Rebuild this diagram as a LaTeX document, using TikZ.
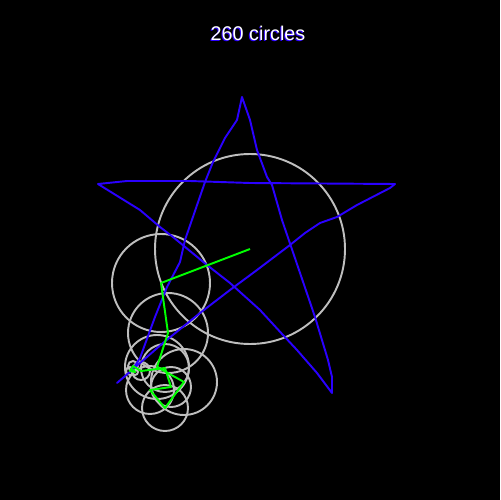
\documentclass[tikz,border=0pt]{standalone}
\usepackage{fontspec}
\setmainfont{Liberation Sans}
\usepackage{xcolor}
\usepackage{tikz}
\usetikzlibrary{positioning}
\definecolor{fsBlack}{HTML}{000000}
\definecolor{fsPen}{HTML}{2A00FF}
\definecolor{fsArm}{HTML}{00FF00}
\definecolor{fsRing}{HTML}{BEBEBE}
\definecolor{fsWhite}{HTML}{FFFFFF}
\tikzset{
  fs-ring/.style={draw=fsRing, line width=1.1pt},
  fs-arm/.style={draw=fsArm, line width=1.1pt, line join=round},
  fs-trace/.style={draw=fsPen, line width=1.1pt, line join=round,
    line cap=round},
  fs-title/.style={font=\fontsize{11.3}{13}\selectfont, text=fsWhite,
    inner sep=0pt},
  fs-title-edge/.style={fs-title, text=fsPen}
}

\begin{document}
\begin{tikzpicture}[x=0.02cm, y=-0.02cm]
\fill[fsBlack] (0,0) rectangle (500,500);
\useasboundingbox (0,0) rectangle (500,500);

\node[fs-title-edge] (title-edge) at (257,34) {260 circles};
\node[fs-title] (title) at (258,33) {260 circles};

% chain of centres
\coordinate (p0) at (250,249);
\coordinate (p1) at (161,283);
\coordinate (p2) at (168,333);
\coordinate (p3) at (157,367);
\coordinate (p4) at (184,382);
\coordinate (p5) at (165,408);
\coordinate (p6) at (150,390);
\coordinate (p7) at (171,387);
\coordinate (p8) at (165,368);
\coordinate (p9) at (141,371);
\coordinate (p10) at (133,366);
\coordinate (p11) at (130,371);
\coordinate (p12) at (135,372);
\coordinate (pen) at (133,369);

\draw[fs-ring] (p0) circle[radius=95];
\draw[fs-ring] (p1) circle[radius=49];
\draw[fs-ring] (p2) circle[radius=40];
\draw[fs-ring] (p3) circle[radius=32];
\draw[fs-ring] (p4) circle[radius=33];
\draw[fs-ring] (p5) circle[radius=23];
\draw[fs-ring] (p6) circle[radius=24];
\draw[fs-ring] (p7) circle[radius=20];
\draw[fs-ring] (p8) circle[radius=24];
\draw[fs-ring] (p9) circle[radius=9];
\draw[fs-ring] (p10) circle[radius=5];
\draw[fs-ring] (p11) circle[radius=4];
\draw[fs-ring] (p12) circle[radius=3];

% traced star
\draw[fs-trace] (117,383) -- (140,363) -- (163,343) -- (200,313)
  -- (230,290) -- (257,270) -- (290,245) -- (305,233) -- (320,223)
  -- (337,217) -- (357,205) -- (390,188) -- (395,184)
  -- (250,183) -- (190,181) -- (127,181) -- (98,184)
  -- (140,210) -- (160,227) -- (173,237) -- (207,265) -- (230,283)
  -- (260,310) -- (283,335) -- (297,350) -- (317,373) -- (332,393)
  -- (332,377) -- (328,360) -- (315,317) -- (282,220) -- (272,185)
  -- (267,177) -- (257,150) -- (250,120) -- (242,97)
  -- (237,120) -- (225,138) -- (213,162) -- (205,182) -- (185,240)
  -- (180,262) -- (167,287) -- (155,317) -- (140,358) -- (pen);

\draw[fs-arm] (p0) -- (p1) -- (p2) -- (p3) -- (p4) -- (p5) -- (p6)
  -- (p7) -- (p8) -- (p9) -- (p10) -- (p11) -- (p12) -- (pen);
\end{tikzpicture}
\end{document}
